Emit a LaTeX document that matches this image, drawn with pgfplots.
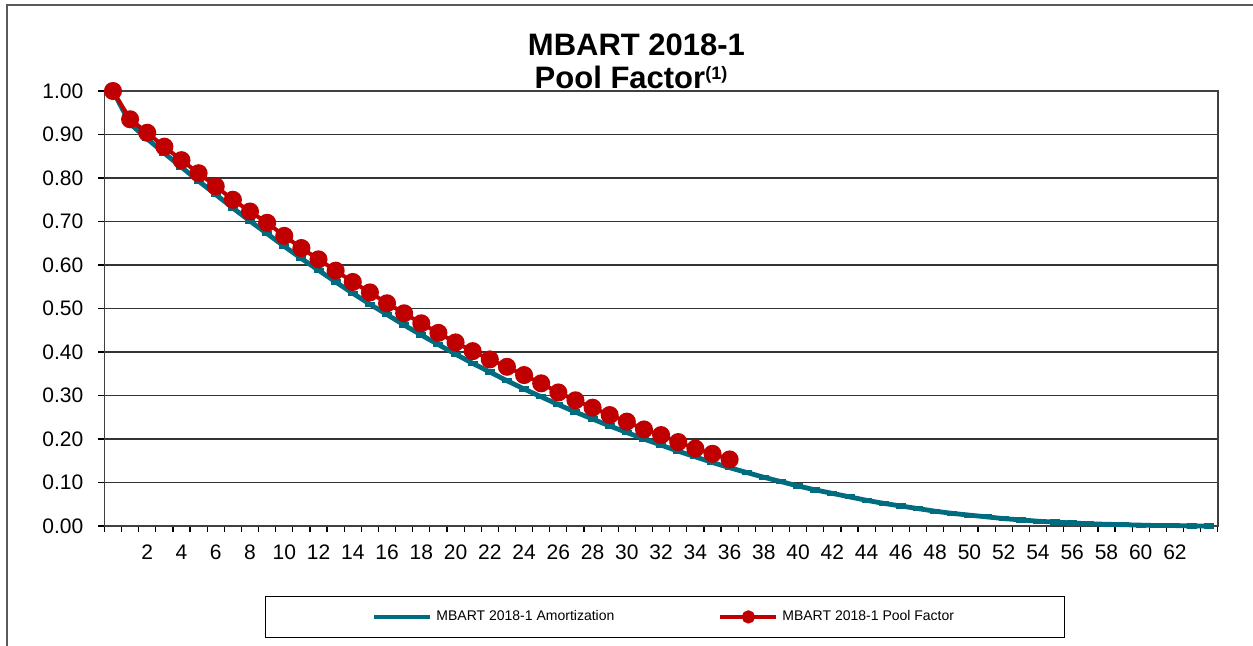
\documentclass[border=0pt]{standalone}
\usepackage{pgfplots}
\pgfplotsset{compat=1.18}
\usepackage{fontspec}
\setmainfont{Liberation Sans}
\definecolor{tealA}{RGB}{0,108,128}
\definecolor{redP}{RGB}{192,0,0}
\begin{document}
\begin{tikzpicture}
\useasboundingbox (0,0) rectangle (626.5pt,322.5pt);
\fill[white] (0,0) rectangle (626.5pt,322.5pt);
\draw[black!65, line width=1pt] (3.5pt,-5pt) -- (3.5pt,320pt) -- (630pt,320pt);
\node[font=\bfseries\fontsize{15.5}{18}\selectfont, anchor=base] at (318.25pt,295pt) {MBART 2018-1};
\node[font=\bfseries\fontsize{15.5}{18}\selectfont, anchor=base] at (315.5pt,278.5pt) {Pool Factor{\fontsize{9}{10}\selectfont\raisebox{4.5pt}{(1)}}};
\begin{axis}[
  at={(52.2pt,59.5pt)}, anchor=south west,
  scale only axis, width=556.7pt, height=217.5pt,
  xmin=-0.5, xmax=64.5, ymin=0, ymax=1.0,
  xtick={2,4,...,62}, major x tick style={draw=none},
  minor xtick={-0.5,0.5,...,64.5},
  ytick={0,0.1,...,1.0},
  tick pos=left, tick align=outside,
  minor tick length=3pt, major tick length=3pt,
  ymajorgrids, grid style={black!80, line width=0.75pt},
  axis line style={black!75, line width=0.75pt},
  tick style={black, line width=0.6pt},
  /pgf/number format/assume math mode=true,
  ticklabel style={font=\fontsize{10.5}{12}\selectfont},
  yticklabel style={/pgf/number format/.cd, fixed, fixed zerofill, precision=2, /tikz/.cd, xshift=-4pt},
  xticklabel style={/pgf/number format/.cd, fixed, precision=0, /tikz/.cd, yshift=-3pt},
  clip=false,
  legend columns=2,
  legend style={at={(0.5034,-0.209)}, anchor=center, draw=black, line width=0.6pt,
    font=\fontsize{7}{8}\selectfont, inner xsep=53pt, inner ysep=5pt,
    /tikz/every even column/.append style={column sep=50pt}},
  legend image code/.code={\draw[mark repeat=2,mark phase=2, mark options={scale=0.65}] plot coordinates {(0pt,0pt) (14pt,0pt) (28pt,0pt)};},
]
\addplot[tealA, line width=2.4pt, mark=-, mark size=2.5pt, mark options={line width=2.6pt}] coordinates {
(0,1.000)(1,0.925)(2,0.890)(3,0.857)(4,0.825)(5,0.793)(6,0.762)(7,0.731)(8,0.701)(9,0.672)
(10,0.643)(11,0.615)(12,0.588)(13,0.561)(14,0.535)(15,0.510)(16,0.486)(17,0.462)(18,0.439)(19,0.417)
(20,0.395)(21,0.374)(22,0.354)(23,0.334)(24,0.315)(25,0.297)(26,0.279)(27,0.262)(28,0.246)(29,0.230)
(30,0.215)(31,0.200)(32,0.186)(33,0.172)(34,0.159)(35,0.146)(36,0.134)(37,0.123)(38,0.112)(39,0.102)
(40,0.092)(41,0.083)(42,0.075)(43,0.067)(44,0.059)(45,0.052)(46,0.046)(47,0.040)(48,0.034)(49,0.029)
(50,0.025)(51,0.021)(52,0.017)(53,0.014)(54,0.011)(55,0.009)(56,0.007)(57,0.005)(58,0.004)(59,0.003)
(60,0.002)(61,0.001)(62,0.001)(63,0.000)(64,0.000)
};
\addlegendentry{MBART 2018-1 Amortization}
\addplot[redP, line width=2pt, mark=*, mark size=3.5pt, mark options={solid}] coordinates {
(0,1.000)(1,0.935)(2,0.904)(3,0.872)(4,0.841)(5,0.811)(6,0.781)(7,0.750)(8,0.723)(9,0.697)
(10,0.667)(11,0.639)(12,0.613)(13,0.587)(14,0.561)(15,0.537)(16,0.512)(17,0.489)(18,0.466)(19,0.444)
(20,0.422)(21,0.402)(22,0.383)(23,0.366)(24,0.347)(25,0.328)(26,0.307)(27,0.289)(28,0.272)(29,0.255)
(30,0.240)(31,0.222)(32,0.209)(33,0.193)(34,0.178)(35,0.166)(36,0.153)
};
\addlegendentry{MBART 2018-1 Pool Factor}
\end{axis}
\end{tikzpicture}
\end{document}
